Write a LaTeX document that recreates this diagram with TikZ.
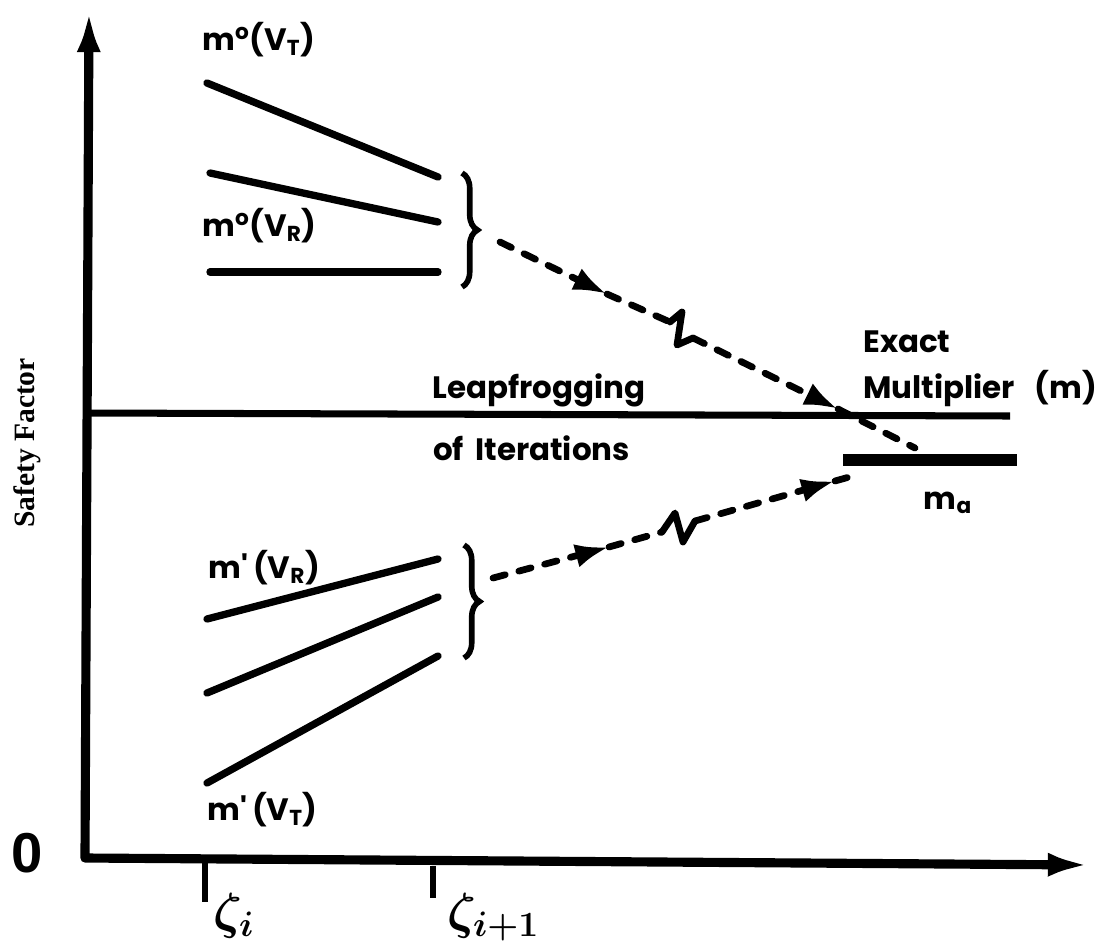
\RequirePackage{fix-cm}
\documentclass[tikz,border=0pt]{standalone}
\usepackage{fontspec}
\newfontfamily\lblfont{Poppins}
\newfontfamily\axisfont{Liberation Serif}
\newfontfamily\zerofont{Liberation Sans}
\usetikzlibrary{arrows.meta,decorations.pathreplacing}

\begin{document}
\begin{tikzpicture}[x=0.025cm, y=-0.025cm,
    axis/.style={line width=6.5pt, line join=round,
                 {Latex[length=30pt,width=17pt]}-{Latex[length=30pt,width=17pt]}},
    tick/.style={line width=4pt},
    curve/.style={line width=5.2pt, line cap=round},
    leap/.style={line width=4.8pt, line cap=round, dash pattern=on 9pt off 10pt},
    leaptip/.style={leap, -{Latex[length=24pt,width=17pt]}},
    bolt/.style={line width=4.8pt, line cap=round, line join=round},
    grp/.style={line width=4pt, decorate, decoration={brace, amplitude=11pt}},
    lbl/.style={font=\lblfont\bfseries\fontsize{22}{26}\selectfont, inner sep=0pt, anchor=west},
    zeta/.style={font=\fontsize{36}{40}\selectfont\boldmath, inner sep=0pt, anchor=north west}
  ]
  \useasboundingbox (0,0) rectangle (1105,949);

  % axes
  \coordinate (ytop) at (89,10);
  \coordinate (origin) at (85,858);
  \coordinate (xend) at (1090,865);
  \draw[axis] (ytop) -- (origin) -- (xend);
  \node[font=\zerofont\bfseries\fontsize{40}{44}\selectfont, inner sep=0pt] (zero) at (27,853) {0};
  \node[font=\axisfont\bfseries\fontsize{21}{24}\selectfont, rotate=90, inner sep=0pt] (sf) at (27,443) {Safety Factor};

  \coordinate (ti) at (205,862);
  \coordinate (tj) at (433,866);
  \draw[tick] (ti) -- ++(0,40);
  \draw[tick] (tj) -- ++(0,32);
  \node[zeta] (zi) at (213,893) {$\zeta_i$};
  \node[zeta] (zj) at (447,893) {$\zeta_{i+1}$};

  % exact multiplier
  \coordinate (ma) at (88,413);
  \coordinate (mb) at (1010,416);
  \draw[line width=5pt] (ma) -- (mb);
  \node[lbl] (exact) at (863,342) {Exact};
  \node[lbl] (mult) at (863,388) {Multiplier\hspace{14pt}(m)};
  \node[lbl] (leap1) at (432,390) {Leapfrogging};
  \node[lbl] (leap2) at (433,448) {of\hspace{8pt}Iterations};

  % upper bounds
  \draw[curve] (207,83) -- (438,177);
  \draw[curve] (210,173) -- (438,222);
  \draw[curve] (210,272) -- (438,272);
  \node[lbl] (uT) at (202,40) {m\textsuperscript{o}(V\textsubscript{T})};
  \node[lbl] (uR) at (202,226) {m\textsuperscript{o}(V\textsubscript{R})};
  \draw[grp] (462,173) -- (462,287);

  % lower bounds
  \draw[curve] (207,619) -- (438,559);
  \draw[curve] (207,693) -- (438,597);
  \draw[curve] (207,783) -- (438,656);
  \node[lbl] (lR) at (208,568) {m'\,(V\textsubscript{R})};
  \node[lbl] (lT) at (207,810) {m'\,(V\textsubscript{T})};
  \draw[grp] (464,545) -- (464,658);

  % approximate multiplier
  \coordinate (mal) at (843,460);
  \coordinate (mar) at (1017,460);
  \draw[line width=9pt] (mal) -- (mar);
  \node[font=\lblfont\bfseries\fontsize{22}{26}\selectfont, inner sep=0pt] (mlbl) at (948,503) {m\textsubscript{a}};

  % iteration paths
  \coordinate (u0) at (500,242);
  \coordinate (u1) at (607,294);
  \coordinate (u2) at (670,322);
  \coordinate (u3) at (693,338);
  \coordinate (u4) at (838,409);
  \coordinate (u5) at (915,448);
  \draw[leaptip] (u0) -- (u1);
  \draw[leap] (u1) -- (u2);
  \draw[bolt] (u2) -- (682,312) -- (677,345) -- (u3);
  \draw[leaptip] (u3) -- (u4);
  \draw[leap] (u4) -- (u5);

  \coordinate (l0) at (493,578);
  \coordinate (l1) at (609,547);
  \coordinate (l2) at (662,532);
  \coordinate (l3) at (695,521);
  \coordinate (l4) at (835,481);
  \coordinate (l5) at (860,474);
  \draw[leaptip] (l0) -- (l1);
  \draw[leap] (l1) -- (l2);
  \draw[bolt] (l2) -- (675,513) -- (683,542) -- (l3);
  \draw[leaptip] (l3) -- (l4);
  \draw[leap] (l4) -- (l5);
\end{tikzpicture}
\end{document}
